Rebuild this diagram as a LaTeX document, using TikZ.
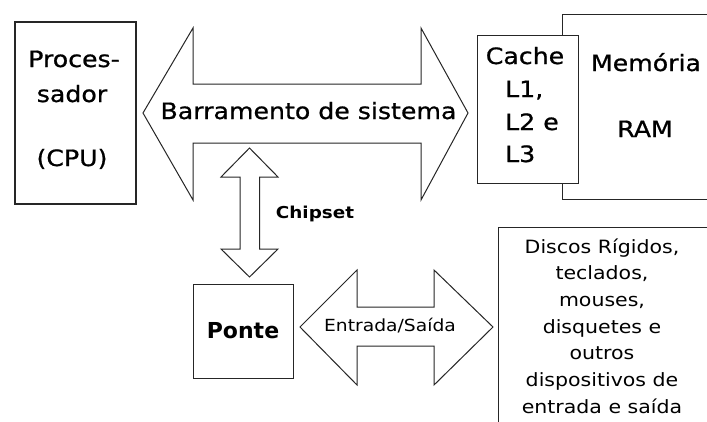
\documentclass[tikz,border=0pt]{standalone}
\usepackage{fontspec}
\setmainfont[FakeStretch=1.12]{DejaVu Sans}
\newfontfamily\heavyfont[FakeStretch=1.12,FakeBold=0.8]{DejaVu Sans}
\newfontfamily\plainfont{DejaVu Sans}
\begin{document}
\begin{tikzpicture}[x=1pt,y=-1pt,
  box/.style={draw=black!85, line width=1.1pt, fill=white, inner sep=0pt},
  arrowshape/.style={draw=black!85, line width=1pt, line join=miter, fill=white},
  bigtxt/.style={font=\heavyfont\fontsize{22.5}{26}\selectfont, inner sep=0pt, anchor=base},
  pontetxt/.style={font=\plainfont\bfseries\fontsize{22}{26}\selectfont, inner sep=0pt, anchor=base},
  chiptxt/.style={font=\bfseries\fontsize{16.4}{20}\selectfont, inner sep=0pt, anchor=base},
  iotxt/.style={font=\fontsize{16.7}{20}\selectfont, inner sep=0pt, anchor=base},
  devtxt/.style={font=\fontsize{18.3}{22}\selectfont, inner sep=0pt, anchor=base, text=black}]
\useasboundingbox (0,0) rectangle (707,421);
\fill[white] (0,0) rectangle (707,421);

% Processador
\node[box, minimum width=121pt, minimum height=182pt] (cpu) at (75.5,113) {};
\node[bigtxt] (cpu1) at (74,67) {Proces-};
\node[bigtxt] (cpu2) at (72,102) {sador};
\node[bigtxt] (cpu3) at (72,166) {(CPU)};

% Barramento de sistema
\draw[arrowshape] (143,113) -- (193,28) -- (193,84) -- (421,84) -- (421,28)
  -- (468,113) -- (421,200) -- (421,143) -- (193,143) -- (193,200) -- cycle;
\node[bigtxt] (bus) at (308.5,119) {Barramento de sistema};

% RAM and Cache
\node[box, minimum width=170pt, minimum height=185pt, anchor=north west] (ram) at (562,14) {};
\node[bigtxt] (ram1) at (646,71) {Memória};
\node[bigtxt] (ram2) at (645,137) {RAM};
\node[box, minimum width=101pt, minimum height=148pt, anchor=north west] (cache) at (477,35) {};
\node[bigtxt] (c1) at (525,64) {Cache};
\node[bigtxt, anchor=base west] (c2) at (505,97) {L1,};
\node[bigtxt, anchor=base west] (c3) at (505,130) {L2 e};
\node[bigtxt, anchor=base west] (c4) at (505,162) {L3};

% Chipset arrow
\draw[arrowshape] (249.5,148) -- (278,177) -- (259.5,177) -- (259.5,249) -- (278,249)
  -- (249.5,277) -- (221,249) -- (240,249) -- (240,177) -- (221,177) -- cycle;
\node[chiptxt] (chip) at (315,218) {Chipset};

% Ponte
\node[box, minimum width=100pt, minimum height=94pt, anchor=north west] (ponte) at (193,284) {};
\node[pontetxt] (ponteT) at (243,338) {Ponte};

% Entrada/Saida arrow
\draw[arrowshape] (300,327) -- (357,270) -- (357,307) -- (434,307) -- (434,270)
  -- (493,327) -- (434,385) -- (434,346) -- (357,346) -- (357,385) -- cycle;
\node[iotxt] (io) at (390,331) {Entrada/Saída};

% Dispositivos
\node[box, minimum width=240pt, minimum height=220pt, anchor=north west] (dev) at (498,227) {};
\node[devtxt] (d1) at (602,253) {Discos Rígidos,};
\node[devtxt] (d2) at (602,279.7) {teclados,};
\node[devtxt] (d3) at (602,306.4) {mouses,};
\node[devtxt] (d4) at (602,333.1) {disquetes e};
\node[devtxt] (d5) at (602,359.8) {outros};
\node[devtxt] (d6) at (602,386.5) {dispositivos de};
\node[devtxt] (d7) at (602,413.2) {entrada e saída};
\end{tikzpicture}
\end{document}
